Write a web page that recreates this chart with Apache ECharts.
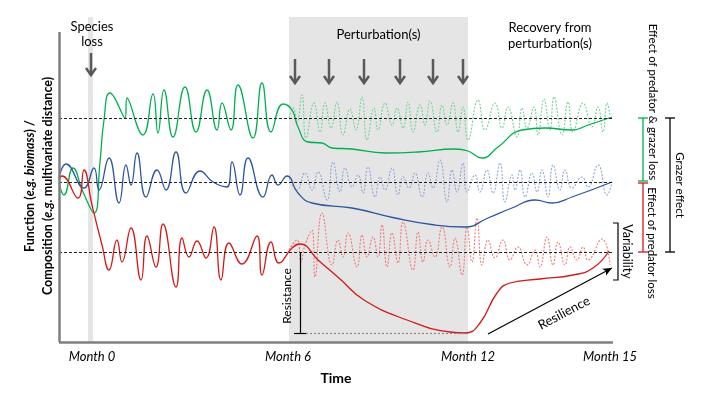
<!DOCTYPE html>
<html>
<head>
<meta charset="utf-8">
<script src="https://cdn.jsdelivr.net/npm/echarts@6/dist/echarts.min.js"></script>
<style>
html, body { margin: 0; padding: 0; background: #fff; }
#chart { width: 720px; height: 405px; }
</style>
</head>
<body>
<div id="chart"></div>
<script>
// x = time (arbitrary units), y = function / composition (arbitrary units)
var monthTicks = [33, 229, 409, 551];
var monthLabels = ['Month 0', 'Month 6', 'Month 12', 'Month 15'];
var speciesLoss = [29, 34];
var perturbation = [230, 409];
var speciesArrowX = 32;
var perturbationArrowX = [236, 270, 305, 341, 374, 404];
var baselines = [224, 160, 90];          // green, blue, red
var resistance = { x: 241, top: 90, bottom: 9, end: 409 };
var resilience = [[429, 8], [553, 74]];
var variabilityRange = [62, 119];

// solid = perturbed, dotted = unperturbed reference
var greenPerturbed = [[0,159],[5,147],[14,174],[24,150],[35,129],[41,180],[45,222],[51,249],[66,224],[68,244],[84,207],[94,248],[99,209],[105,252],[114,205],[126,255],[137,210],[148,252],[158,212],[163,239],[172,212],[179,257],[194,204],[203,259],[212,210],[224,238],[233,232],[239,215],[249,200],[263,199],[273,194],[293,193],[326,189],[359,190],[396,193],[409,191],[423,184],[439,195],[463,212],[486,214],[513,212],[529,217],[553,225]];
var greenReference = [[230,224],[234,234],[238,220],[243,247],[247,204],[255,239],[261,210],[266,239],[272,214],[278,240],[284,207],[291,233],[297,212],[303,245],[308,202],[315,234],[319,212],[326,239],[333,217],[338,234],[344,214],[349,240],[354,210],[361,237],[366,217],[371,241],[378,210],[383,237],[388,217],[394,239],[399,210],[404,235],[409,202],[419,242],[426,212],[436,239],[443,214],[449,235],[458,205],[463,234],[468,214],[475,235],[479,207],[485,243],[491,212],[495,245],[503,207],[509,240],[514,210],[524,239],[533,215],[539,235],[544,210],[548,239],[551,227]];

var bluePerturbed = [[0,164],[7,178],[25,154],[35,174],[40,152],[50,184],[60,139],[67,177],[72,157],[78,189],[87,145],[98,172],[107,152],[117,190],[127,149],[141,171],[154,160],[168,155],[173,180],[181,147],[189,184],[204,145],[213,167],[219,157],[228,166],[239,149],[253,139],[293,134],[336,124],[376,117],[406,115],[429,124],[453,134],[476,142],[493,139],[513,145],[553,160]];
var blueReference = [[230,164],[238,152],[246,169],[253,152],[259,170],[268,142],[274,180],[281,150],[286,174],[293,155],[299,167],[304,149],[309,175],[316,145],[321,165],[326,152],[333,174],[339,147],[344,165],[350,154],[356,169],[363,145],[369,169],[374,154],[381,182],[388,140],[393,172],[398,150],[404,179],[408,150],[416,167],[421,150],[428,172],[434,149],[441,179],[446,140],[453,167],[456,152],[461,172],[466,145],[473,169],[478,150],[483,172],[489,145],[494,177],[501,152],[506,172],[513,154],[523,165],[529,155],[539,177],[548,147],[553,160]];

var redPerturbed = [[0,162],[3,166],[19,144],[25,172],[33,137],[43,97],[50,72],[58,102],[63,80],[72,114],[82,62],[88,106],[97,75],[104,118],[117,55],[123,104],[130,85],[138,101],[147,84],[155,115],[162,62],[170,99],[183,78],[198,106],[203,67],[212,100],[220,79],[233,94],[241,98],[259,82],[281,63],[305,42],[348,22],[391,10],[406,9],[421,19],[438,49],[451,59],[481,63],[514,67],[534,74],[550,91]];
var redReference = [[230,92],[238,102],[242,80],[246,97],[253,112],[256,65],[263,129],[273,77],[279,102],[284,85],[289,109],[298,75],[303,107],[308,85],[314,105],[319,85],[323,117],[328,75],[333,109],[339,79],[344,120],[354,72],[359,110],[364,80],[369,102],[376,85],[383,115],[391,75],[396,104],[403,67],[408,115],[413,80],[418,124],[423,77],[429,102],[436,84],[444,102],[451,82],[459,95],[468,77],[476,92],[481,75],[488,105],[494,77],[499,100],[506,77],[511,95],[518,82],[524,95],[529,82],[543,103],[551,77]];

var GREEN = '#00b050', BLUE = '#2f55a0', RED = '#d41818';
var GREEN_L = '#72d394', BLUE_L = '#8ea6d6', RED_L = '#ee7a7a';
var FONT = 'Lato';

function solid(name, data, color) {
    return { name: name, type: 'line', data: data, showSymbol: false, smooth: 0.5,
        lineStyle: { color: color, width: 1.3 }, z: 4, silent: true };
}
function dotted(name, data, color) {
    return { name: name, type: 'line', data: data, showSymbol: false, smooth: 0.5,
        lineStyle: { color: color, width: 1.1, type: [2, 1.5] }, z: 3, silent: true };
}

var dash = { color: '#222', width: 1.2, type: [3, 2] };
var axisStyle = { color: '#7f7f7f', width: 2.5, type: 'solid' };
var black = { color: '#000', width: 1.2, type: 'solid' };

var option = {
    animation: false,
    textStyle: { fontFamily: FONT },
    grid: { left: 59, right: 107, top: 17, bottom: 63 },
    xAxis: {
        type: 'value', min: 0, max: 554,
        axisLine: { show: false }, axisTick: { show: false }, splitLine: { show: false },
        axisLabel: {
            customValues: monthTicks, margin: 8, color: '#000', fontSize: 13, fontStyle: 'italic',
            formatter: function (v) { return monthLabels[monthTicks.indexOf(v)]; }
        },
        name: 'Time', nameLocation: 'middle', nameGap: 29,
        nameTextStyle: { color: '#000', fontSize: 14, fontWeight: 'bold' }
    },
    yAxis: { type: 'value', min: 0, max: 325, show: false },
    series: [
        {
            type: 'line', data: [], z: 0, silent: true,
            markArea: {
                silent: true, itemStyle: { color: '#e5e5e5' },
                data: [[{ xAxis: speciesLoss[0] }, { xAxis: speciesLoss[1] }],
                       [{ xAxis: perturbation[0] }, { xAxis: perturbation[1] }]]
            }
        },
        {
            type: 'line', data: [], z: 2, silent: true, clip: false,
            markLine: {
                silent: true, symbol: 'none', label: { show: false },
                data: [
                    { yAxis: baselines[0], lineStyle: dash },
                    { yAxis: baselines[1], lineStyle: dash },
                    { yAxis: baselines[2], lineStyle: dash },
                    [{ coord: [0, 0], lineStyle: axisStyle }, { coord: [0, 310] }],
                    [{ coord: [0, 0], lineStyle: axisStyle }, { coord: [554, 0] }],
                    [{ coord: [resistance.x, resistance.top], lineStyle: black }, { coord: [resistance.x, resistance.bottom] }],
                    [{ coord: [resistance.x - 6, resistance.bottom], lineStyle: black }, { coord: [resistance.x + 6, resistance.bottom] }],
                    [{ coord: [resistance.x + 6, resistance.bottom], lineStyle: { color: '#888', width: 1.2, type: [2, 2] } }, { coord: [resistance.end, resistance.bottom] }],
                    [{ coord: resilience[0], lineStyle: black, symbol: 'none' },
                     { coord: resilience[1], symbol: 'arrow', symbolSize: [6, 9] }]
                ]
            }
        },
        dotted('green reference', greenReference, GREEN_L),
        dotted('blue reference', blueReference, BLUE_L),
        dotted('red reference', redReference, RED_L),
        solid('green', greenPerturbed, GREEN),
        solid('blue', bluePerturbed, BLUE),
        solid('red', redPerturbed, RED)
    ]
};

var chart = echarts.init(document.getElementById('chart'));
chart.setOption(option);

function toPx(x, y) { return chart.convertToPixel({ gridIndex: 0 }, [x, y]); }
function X(t) { return toPx(t, 0)[0]; }
function Y(v) { return toPx(0, v)[1]; }

var g = [];
function text(s, x, y, size, rot, extra) {
    var st = { text: s, x: 0, y: 0, align: 'center', verticalAlign: 'middle', fill: '#000',
        fontFamily: FONT, fontSize: size };
    for (var k in extra || {}) st[k] = extra[k];
    g.push({ type: 'text', x: x, y: y, rotation: rot || 0, style: st, z: 10, silent: true });
}
function seg(x1, y1, x2, y2, color, w) {
    g.push({ type: 'line', shape: { x1: x1, y1: y1, x2: x2, y2: y2 }, style: { stroke: color, lineWidth: w || 1.3 }, z: 10, silent: true });
}
function downArrow(t, v0, v1) {
    var x = X(t), y0 = Y(v0), y1 = Y(v1);
    seg(x, y0, x, y1, '#595959', 2.5);
    g.push({ type: 'polyline', shape: { points: [[x - 5, y1 - 7], [x, y1], [x + 5, y1 - 7]] },
        style: { stroke: '#595959', lineWidth: 2.5, fill: null }, z: 10, silent: true });
}
function bracket(x, yA, yB, l, r, color) {
    seg(x, yA, x, yB, color);
    seg(x - l, yA, x + r, yA, color);
    seg(x - l, yB, x + r, yB, color);
}

downArrow(speciesArrowX, 289, 267);
perturbationArrowX.forEach(function (t) { downArrow(t, 283, 259); });

text('Species\nloss', X(33), 34, 13, 0, { lineHeight: 15 });
text('Perturbation(s)', X((perturbation[0] + perturbation[1]) / 2), 35, 13);
text('Recovery from\nperturbation(s)', 550, 36, 13, 0, { lineHeight: 16 });

// y-axis title
text('{b|Function (}{bi|e.g. biomass}{b|) /}\n{b|Composition (}{bi|e.g.}{b| multivariate distance)}',
    39, 186, 12.5, Math.PI / 2, {
        lineHeight: 18,
        rich: {
            b: { fontWeight: 'bold', fontSize: 12.5, fontFamily: FONT, fill: '#000', lineHeight: 18 },
            bi: { fontWeight: 'bold', fontStyle: 'italic', fontSize: 12.5, fontFamily: FONT, fill: '#000', lineHeight: 18 }
        }
    });

// resistance / resilience / variability
text('Resistance', 287, 296, 12, Math.PI / 2);
text('Resilience', 564, 313, 13, 28 * Math.PI / 180);
g.push({ type: 'polyline', shape: { points: [[613, Y(variabilityRange[1])], [618, Y(variabilityRange[1])], [618, Y(variabilityRange[0])], [613, Y(variabilityRange[0])]] },
    style: { stroke: '#000', lineWidth: 1.2, fill: null }, z: 10, silent: true });
text('Variability', 627, (Y(variabilityRange[0]) + Y(variabilityRange[1])) / 2, 12.5, -Math.PI / 2);

// right-hand effect brackets
bracket(643, Y(baselines[0]), Y(baselines[1]) - 1, 5, 5, GREEN);
bracket(643, Y(baselines[1]) + 1, Y(baselines[2]), 5, 5, RED);
bracket(670, Y(baselines[0]), Y(baselines[2]), 5, 5, '#000');
text('Effect of predator & grazer loss', 653, 102, 11.5, -Math.PI / 2);
text('Effect of predator loss', 652, 243, 11.5, -Math.PI / 2);
text('Grazer effect', 680, 185, 11.5, -Math.PI / 2);

chart.setOption({ graphic: { elements: g } });
</script>
</body>
</html>
